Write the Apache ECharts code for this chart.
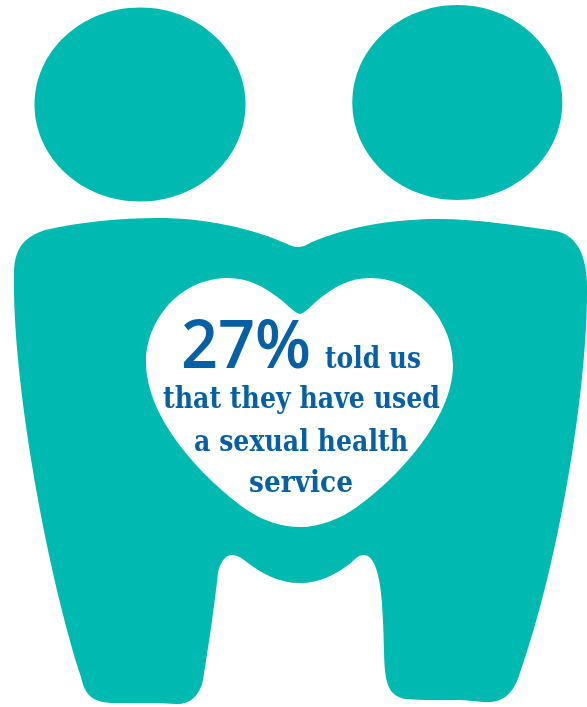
<!DOCTYPE html>
<html><head><meta charset="utf-8">
<style>html,body{margin:0;padding:0;background:#fff}#c{width:587px;height:707px}</style>
<script src="https://cdn.jsdelivr.net/npm/echarts@6/dist/echarts.min.js"></script>
</head><body><div id="c"></div>
<script>
const statValue = [27];
const statSuffix = ['%'];
const captionLines = ['told us', 'that they have used', 'a sexual health', 'service'];
const TEAL = '#00b9b1', BLUE = '#0760a3';
const FRAME = 'M0 0L0 0ZM587 707L587 707Z';
const bodyPath = FRAME+'M298.5 247C304 247 308 244 312 242C345 228 390 219 437 219C480 219 520 226 556 231C575 235 586 252 587 282C589 380 560 560 520 673C513 695 503 703 484 702C475 701 465 700 450 700C430 700 417 700 405 699C393 696 387 690 385 670C384 660 384 640 383 620C382 590 378 555 364 555C358 555 354 560 351 563C335 575 320 583 300 583C280 583 264 575 248 563C243 559 238 555 232 555C225 555 220 563 218 573C214 610 208 650 203.5 677C201 695 190 705 176 704C170 704 165 703 158 703C145 703 130 703 115 703C92 703 85 695 81 677C45 565 13 380 14 280C13 250 22 238 45 230C80 222 120 218 158 218C205 218 250 228 285 243C290 245 293 247 298.5 247Z';
const heartPath = FRAME+'M300 314C308 314 330 278 370 278C418 278 453 322 453 365C453 420 395 480 357 507C340 519 320 527 300 527C280 527 262 520 247 510C205 480 146 420 146 362C146 320 180 278 228 278C268 278 292 314 300 314Z';
const SANS = '"Open Sans", sans-serif', SLAB = '"DejaVu Serif", serif';
const mctx = document.createElement('canvas').getContext('2d');
function fitText(text, font, left, right, baseline, descent) {
  mctx.font = font;
  const sx = (right - left) / mctx.measureText(text).width;
  return {type:'text', x:left, y:baseline + descent, scaleX:sx, originX:0, originY:0,
    style:{text, font, fill:BLUE, align:'left', verticalAlign:'bottom'}};
}
function pathEl(d, fill) {
  return {type:'path', shape:{pathData:d, layout:'cover', x:0, y:0, width:587, height:707}, style:{fill}};
}
const chart = echarts.init(document.getElementById('c'));
chart.setOption({
  animation:false,
  backgroundColor:'#fff',
  series:[{
    type:'custom', coordinateSystem:'none', silent:true, clip:false,
    data:statValue,
    renderItem:(params, api) => {
      const slab = '700 30px '+SLAB;
      return {type:'group', children:[
        {type:'ellipse', shape:{cx:140,cy:104.5,rx:105.5,ry:97}, style:{fill:TEAL}},
        {type:'ellipse', shape:{cx:457.3,cy:102.5,rx:105,ry:97.5}, style:{fill:TEAL}},
        pathEl(bodyPath, TEAL),
        pathEl(heartPath, '#fff'),
        fitText(api.value(0)+statSuffix[0], '600 67px '+SANS, 181, 311, 368, 14),
        fitText(captionLines[0], slab, 325, 421, 368, 7.5),
        fitText(captionLines[1], slab, 163, 440, 408, 7.5),
        fitText(captionLines[2], slab, 194, 408, 451, 7.5),
        fitText(captionLines[3], slab, 249, 353, 492, 7.5)
      ]};
    }
  }]
});
</script></body></html>
